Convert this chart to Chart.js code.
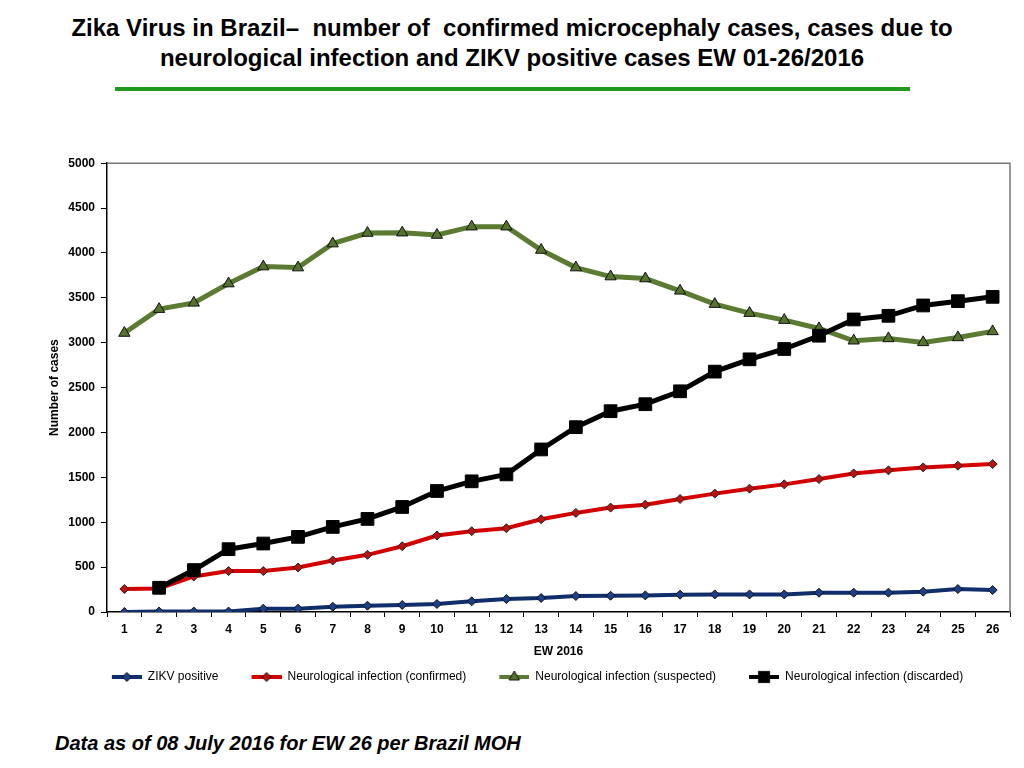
<!DOCTYPE html>
<html>
<head>
<meta charset="utf-8">
<script src="https://cdn.jsdelivr.net/npm/chart.js@4.4.1/dist/chart.umd.min.js"></script>
<style>
  body { margin:0; background:#fff; width:1024px; height:768px; position:relative; overflow:hidden; }
  .titulo { position:absolute; left:0; width:1024px; text-align:center; white-space:pre;
            font-family:"Liberation Sans Narrow","Arial Narrow","Liberation Sans",Arial,sans-serif;
            font-weight:bold; font-size:24px; color:#000; }
  #regua { position:absolute; left:115px; top:87px; width:795px; height:4px; background:#1f9a1f; }
  #rodape { position:absolute; left:55px; top:732px; font-family:"Liberation Sans",Arial,sans-serif;
            font-weight:bold; font-style:italic; font-size:20px; color:#000; }
  #caixa { position:absolute; left:0; top:150px; width:1024px; height:543px; }
</style>
</head>
<body>
<div class="titulo" style="top:14px">Zika Virus in Brazil–  number of  confirmed microcephaly cases, cases due to</div>
<div class="titulo" style="top:44px">neurological infection and ZIKV positive cases EW 01-26/2016</div>
<div id="regua"></div>
<div id="caixa"><canvas id="grafico"></canvas></div>
<div id="rodape">Data as of 08 July 2016 for EW 26 per Brazil MOH</div>
<script>
var semanas = ['1','2','3','4','5','6','7','8','9','10','11','12','13','14','15','16','17','18','19','20','21','22','23','24','25','26'];
var zikvPositivo = [0,5,5,5,37,37,59,70,78,89,119,144,156,178,181,185,193,196,196,196,215,215,215,226,256,244];
var confirmados = [256,263,396,456,456,496,574,637,733,852,900,933,1033,1104,1163,1196,1259,1319,1374,1422,1481,1544,1578,1611,1630,1648];
var suspeitos = [3108,3374,3444,3659,3848,3837,4104,4222,4226,4200,4293,4293,4033,3837,3737,3715,3578,3430,3330,3252,3159,3022,3048,3004,3059,3126];
var descartados = [null,270,467,700,763,837,948,1037,1170,1348,1456,1533,1811,2059,2237,2315,2459,2678,2815,2930,3078,3259,3300,3415,3463,3511];

// icone da legenda: margem vazia a esquerda, linha de 30px e o marcador no meio
function icone(cor, largura, forma, raio, preenchimento){
    var c = document.createElement('canvas');
    c.width = 55; c.height = 16;
    var g = c.getContext('2d');
    g.strokeStyle = cor; g.lineWidth = largura;
    g.beginPath(); g.moveTo(25,8); g.lineTo(55,8); g.stroke();
    g.fillStyle = preenchimento; g.strokeStyle = '#111'; g.lineWidth = 1;
    g.beginPath();
    if (forma === 'rectRot') { g.moveTo(40,8-raio); g.lineTo(40+raio,8); g.lineTo(40,8+raio); g.lineTo(40-raio,8); }
    else if (forma === 'triangle') { g.moveTo(40,8-raio); g.lineTo(40+raio*0.87,8+raio*0.5); g.lineTo(40-raio*0.87,8+raio*0.5); }
    else { g.rect(40-raio*0.7,8-raio*0.7,raio*1.4,raio*1.4); }
    g.closePath(); g.fill(); g.stroke();
    return c;
}

var moldura = {
    id: 'moldura',
    afterDraw: function(chart){
        var a = chart.chartArea, g = chart.ctx;
        g.save();
        g.strokeStyle = '#777'; g.lineWidth = 1.5;
        g.beginPath(); g.moveTo(a.left, a.top); g.lineTo(a.right, a.top); g.lineTo(a.right, a.bottom); g.stroke();
        g.restore();
    }
};

window.onload = function(){
    var contexto = document.getElementById("grafico").getContext("2d");
    var grafico = new Chart(contexto, {
        type:'line',
        plugins:[moldura],
        data:{
            labels: semanas,
            datasets: [{
                label: 'ZIKV positive',
                data: zikvPositivo,
                borderColor:'#102e6b', backgroundColor:'#1d3f86',
                borderWidth:4, pointStyle:'rectRot', pointRadius:4.5,
                pointBorderColor:'#111', pointBorderWidth:1,
                order:3, legendIcon: icone('#102e6b',4,'rectRot',4.5,'#1d3f86')
            },{
                label: 'Neurological infection (confirmed)',
                data: confirmados,
                borderColor:'#d40000', backgroundColor:'#b81212',
                borderWidth:4, pointStyle:'rectRot', pointRadius:4.5,
                pointBorderColor:'#222', pointBorderWidth:1,
                order:2, legendIcon: icone('#d40000',4,'rectRot',4.5,'#b81212')
            },{
                label: 'Neurological infection (suspected)',
                data: suspeitos,
                borderColor:'#5b7a32', backgroundColor:'#55722e',
                borderWidth:5, pointStyle:'triangle', pointRadius:6.5,
                pointBorderColor:'#111', pointBorderWidth:1,
                order:1, legendIcon: icone('#5b7a32',4,'triangle',6,'#55722e')
            },{
                label: 'Neurological infection (discarded)',
                data: descartados,
                borderColor:'#000', backgroundColor:'#000',
                borderWidth:5, pointStyle:'rect', pointRadius:9,
                pointBorderColor:'#000', pointBorderWidth:1,
                order:0, legendIcon: icone('#000',4,'rect',8,'#000')
            }]
        },
        options:{
            responsive:true,
            maintainAspectRatio:false,
            animation:false,
            layout:{ padding:{ left:40, right:14, top:8, bottom:0 } },
            elements:{ line:{ tension:0 } },
            plugins:{
                tooltip:{ enabled:false },
                legend:{
                    position:'bottom',
                    labels:{
                        usePointStyle:true,
                        pointStyleWidth:55,
                        padding:8,
                        color:'#000',
                        font:{ family:'"Liberation Sans Narrow","Liberation Sans",Arial,sans-serif', size:12 },
                        sort:function(a,b){ return a.datasetIndex - b.datasetIndex; },
                        generateLabels:function(chart){
                            var itens = Chart.defaults.plugins.legend.labels.generateLabels(chart);
                            itens.forEach(function(i){ i.pointStyle = chart.data.datasets[i.datasetIndex].legendIcon; });
                            return itens;
                        }
                    }
                }
            },
            scales:{
                x:{
                    offset:true,
                    grid:{ offset:true, drawOnChartArea:false, color:'#000', tickLength:5 },
                    border:{ color:'#000', width:1.5 },
                    ticks:{ color:'#000', padding:5, maxRotation:0, autoSkip:false,
                            font:{ family:'"Liberation Sans",Arial,sans-serif', size:12, weight:'bold' } },
                    title:{ display:true, text:'EW 2016', color:'#000', padding:{top:4,bottom:4},
                            font:{ family:'"Liberation Sans Narrow","Liberation Sans",Arial,sans-serif', size:12, weight:'bold' } },
                    afterFit:function(s){ s.height = 51; }
                },
                y:{
                    min:0, max:5000,
                    grid:{ drawOnChartArea:false, color:'#000', tickLength:6 },
                    border:{ color:'#000', width:1.5 },
                    ticks:{ stepSize:500, color:'#000', padding:6,
                            callback:function(v){ return String(v); },
                            font:{ family:'"Liberation Sans",Arial,sans-serif', size:12, weight:'bold' } },
                    title:{ display:true, text:'Number of cases', color:'#000', padding:{top:7,bottom:7},
                            font:{ family:'"Liberation Sans Narrow","Liberation Sans",Arial,sans-serif', size:12, weight:'bold' } },
                    afterFit:function(s){ s.width = 67; }
                }
            }
        }
    });
};
</script>
</body>
</html>
